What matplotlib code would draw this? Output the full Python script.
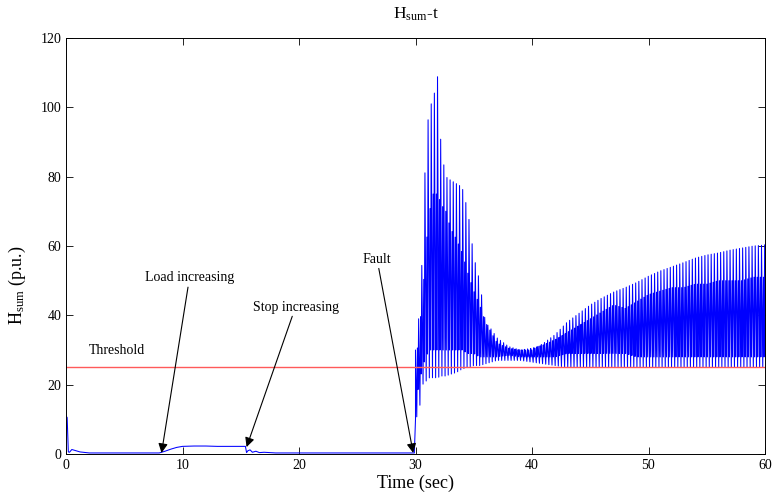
import numpy as np
import matplotlib
matplotlib.use("Agg")
import matplotlib.pyplot as plt

plt.rcParams['font.family'] = ['Liberation Serif', 'DejaVu Serif']
plt.rcParams['mathtext.fontset'] = 'custom'
plt.rcParams['mathtext.rm'] = 'Liberation Serif'
plt.rcParams['mathtext.it'] = 'Liberation Serif:italic'

# ---- data ----
# quiet period before the fault (time s, H_sum p.u.)
t_pre = [0, 0.1, 0.2, 0.3, 0.5, 0.8, 1.2, 2, 8, 8.5, 9, 9.5, 10, 11, 12, 13,
         14, 15, 15.4, 15.5, 15.6, 15.8, 16.0, 16.3, 16.6, 17, 18, 25, 29.9]
h_pre = [11, 10.5, 0.6, 0.5, 1.3, 1.0, 0.6, 0.3, 0.3, 0.8, 1.4, 1.9, 2.2, 2.3,
         2.3, 2.2, 2.2, 2.2, 2.2, 0.4, 0.9, 1.2, 0.5, 0.8, 0.4, 0.5, 0.3, 0.3, 0.3]

# oscillation after the fault: envelope values read at these times
t_env = [30, 30.3, 30.6, 30.9, 31.2, 31.5, 31.9, 32.2, 32.6, 33, 33.5, 34, 34.5,
         35, 35.5, 36, 36.5, 37, 38, 39, 40, 41, 42, 43, 44, 45, 46, 47, 48, 49,
         50, 51, 52, 53, 54, 55, 56, 57, 58, 59, 60]
upper = [30, 40, 58, 91, 100, 102, 109, 88, 80, 79, 78, 77, 70,
         57, 50, 38, 36, 33.5, 31, 30, 30, 32, 34.5, 38, 40.5, 43, 45, 46.7, 48, 49.5,
         51.3, 52.8, 54, 55.2, 56.5, 57.4, 58, 58.8, 59.4, 60, 60.3]
lower = [10, 12, 20, 21, 22, 22, 22, 22.5, 22.5, 23, 23.5, 24.5, 25,
         25.5, 25.5, 26, 26.5, 27, 27, 27, 26.5, 26, 25.5, 25, 25, 25, 25, 25, 25, 25,
         25, 25, 25, 25, 25, 25, 25, 25, 25, 25, 25]
band_lo = [15, 20, 25, 28, 30, 30, 30, 30, 30, 30, 30, 30, 29,
           29, 28, 28, 28, 28, 28.5, 28, 28, 28, 28, 29, 29, 29, 29, 29, 29, 28,
           28, 28, 28, 28, 28, 28, 28, 28, 28, 28, 28]
band_hi = [25, 35, 45, 60, 70, 75, 75, 72, 70, 65, 62, 58, 52,
           47, 43, 38, 35, 32, 30.5, 30, 30.5, 31.5, 33, 35, 37, 39, 41, 43, 42, 44,
           46, 47, 48, 48, 49, 49, 50, 50, 50, 51, 51]

threshold = 25

# ---- build the drawn oscillation from the envelopes ----
period = 0.27
phases = [0.0, 0.4, 0.62, 0.8]
which = ['u', 'l', 'bh', 'bl']
env = {'u': upper, 'l': lower, 'bl': band_lo, 'bh': band_hi}
ts, hs = [], []
k = 0
while True:
    t0 = 30.0 + k * period
    if t0 > 60:
        break
    for ph, w in zip(phases, which):
        tt = t0 + ph * period
        if tt > 60:
            break
        ts.append(tt)
        hs.append(np.interp(tt, t_env, env[w]))
    k += 1
t_all = np.concatenate([t_pre, [30.0], ts])
h_all = np.concatenate([h_pre, [lower[0]], hs])

fig = plt.figure(figsize=(7.72, 4.95), dpi=100)
ax = fig.add_axes([66/772, 1-454/495, (765-66)/772, (454-38)/495])

ax.plot(t_all, h_all, color='#0000ff', lw=0.75)
ax.axhline(threshold, color='#ff5a5a', lw=1.0)

ax.set_xlim(0, 60)
ax.set_ylim(0, 120)
ax.set_xticks(range(0, 61, 10))
ax.set_yticks(range(0, 121, 20))
ax.tick_params(direction='in', top=True, right=True, labelsize=10, length=5, width=0.6)
for s in ax.spines.values():
    s.set_linewidth(0.7)

ax.set_title(r'$\mathrm{H}_{\mathrm{sum}}$-t', fontsize=12.5, pad=14)
ax.set_xlabel('Time (sec)', fontsize=13, labelpad=2)
ax.set_ylabel(r'$\mathrm{H}_{\mathrm{sum}}$ (p.u.)', fontsize=13)
ax.yaxis.set_label_coords(-0.055, 0.406)

ap = dict(arrowstyle='-|>', color='black', lw=0.8, mutation_scale=14,
          shrinkA=0, shrinkB=0)
ax.annotate('Load increasing', xy=(8.2, 0.3), xytext=(10.6, 50.8),
            ha='center', va='center', fontsize=10, arrowprops=ap)
ax.annotate('Stop increasing', xy=(15.5, 2.0), xytext=(19.7, 42.4),
            ha='center', va='center', fontsize=10, arrowprops=ap)
ax.annotate('Fault', xy=(29.8, 0.3), xytext=(26.7, 56.2),
            ha='center', va='center', fontsize=10, arrowprops=ap)
ax.text(2.0, 30.0, 'Threshold', ha='left', va='center', fontsize=10)

fig.savefig('out.png', dpi=100)
